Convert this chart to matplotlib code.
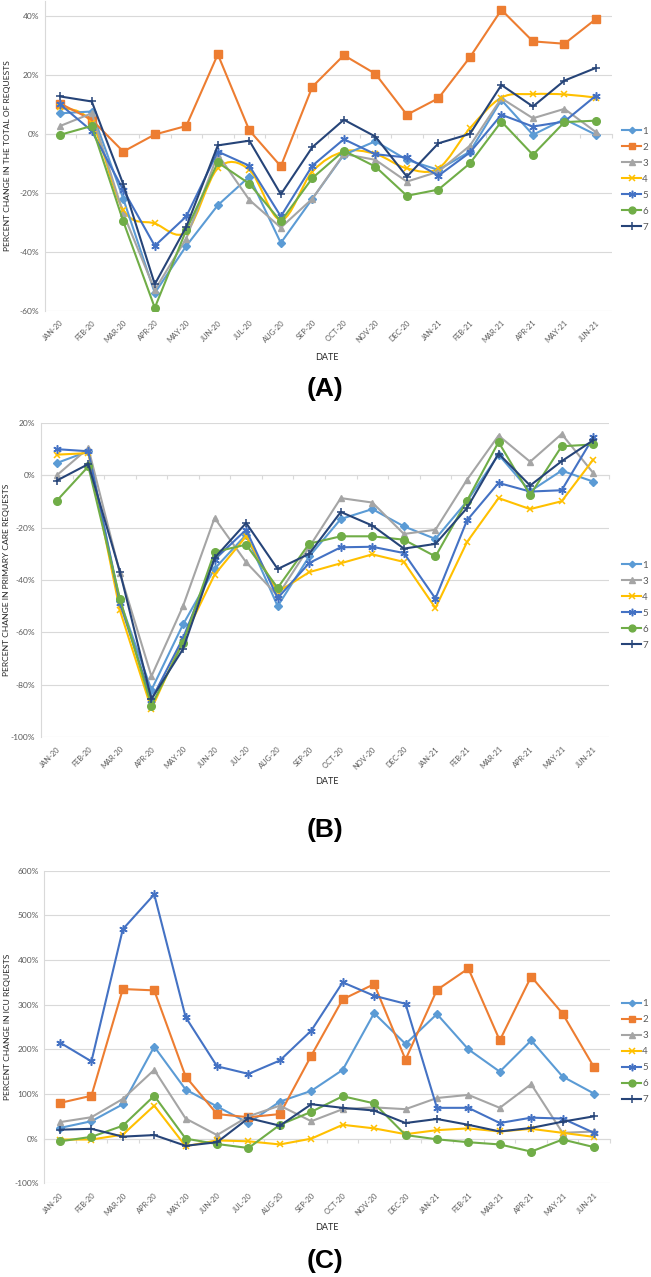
import matplotlib
matplotlib.use('Agg')
import matplotlib.pyplot as plt
from matplotlib.path import Path
from matplotlib.patches import PathPatch
from matplotlib.ticker import FuncFormatter
import numpy as np

plt.rcParams.update({
    'font.family': ['Lato', 'DejaVu Sans'],
    'axes.linewidth': 0.8,
})

MONTHS = ['JAN-20', 'FEB-20', 'MAR-20', 'APR-20', 'MAY-20', 'JUN-20', 'JUL-20',
          'AUG-20', 'SEP-20', 'OCT-20', 'NOV-20', 'DEC-20', 'JAN-21', 'FEB-21',
          'MAR-21', 'APR-21', 'MAY-21', 'JUN-21']

# (A) percent change in the total of requests
total_1 = [7.0, 7.6, -22, -54, -38, -24.2, -14.5, -37, -22, -7.1, -2.5, -8.8, -12.2, -6, 11.5, -0.3, 5, -0.3]
total_2 = [10.3, 4.8, -6, -0.2, 2.7, 27, 1.2, -11, 16, 26.7, 20.4, 6.5, 12.1, 26, 42.1, 31.4, 30.6, 39]
total_3 = [2.7, 7, -27, -53, -35.5, -7, -22.4, -31.8, -22, -6.8, -8.8, -16.2, -12.8, -4, 12.1, 5.3, 8.5, 0.6]
total_4 = [9, 3.6, -25.8, -30.4, -33.2, -11.7, -12.2, -29.2, -12.8, -6, -6.8, -11.7, -11.7, 1.9, 12.3, 13.5, 13.4, 12.3]
total_5 = [10, 1, -19, -38, -28, -6, -10.8, -28, -10.8, -1.8, -6.9, -8, -14.2, -6.3, 6.5, 2.5, 4.2, 13]
total_6 = [-0.3, 2.7, -29.7, -59, -32.6, -9.7, -16.9, -29.7, -15, -5.7, -11.1, -21, -18.9, -10, 4.2, -7.1, 4, 4.5]
total_7 = [12.7, 11, -17.1, -51, -31.5, -3.9, -2.3, -20.5, -4.5, 4.8, -0.9, -14.5, -3.2, 0, 16.6, 9.3, 18.1, 22.4]

# (B) percent change in primary care requests (no series 2)
primary_1 = [4.7, 9.2, -48, -82, -57, -35.7, -22.7, -50, -31, -16.7, -12.9, -19.5, -24.3, -9.9, 7.9, -6.1, 1.8, -2.4]
primary_3 = [0, 10.4, -37.3, -76.8, -50, -16.3, -33.2, -46, -27.4, -8.7, -10.4, -22.4, -20.8, -1.7, 15.2, 5.2, 15.8, 0.9]
primary_4 = [7.9, 8.5, -51.6, -89.3, -62.8, -38, -23.3, -44.6, -37, -33.6, -30.2, -33.1, -50.7, -25.5, -8.7, -12.9, -9.9, 6]
primary_5 = [10, 9.2, -48.8, -85.7, -62.2, -32.2, -20.8, -46.9, -33.5, -27.5, -27.3, -29.7, -47.1, -17.2, -2.9, -6.2, -5.7, 14.5]
primary_6 = [-9.7, 3.4, -47.1, -88, -64, -29.3, -26.5, -43, -26.1, -23.3, -23.3, -24.6, -31, -9.7, 12.7, -7.5, 11.1, 11.8]
primary_7 = [-2, 4.3, -36.8, -85.5, -66.4, -31.6, -18.2, -35.8, -30, -14, -19.2, -28, -26.2, -12.5, 8.3, -3.9, 5.4, 13.4]

# (C) percent change in ICU requests
icu_1 = [24, 39, 77, 206, 110, 72, 35, 83, 107, 154, 281, 212, 279, 200, 150, 220, 139, 101]
icu_2 = [80, 96, 335, 332, 139, 55, 48, 55, 186, 312, 346, 177, 333, 381, 220, 363, 280, 160]
icu_3 = [37, 48, 89, 154, 45, 8, 50, 74, 39, 66, 70, 66, 91, 98, 69, 122, 13, 16]
icu_4 = [-2, -2, 9, 74, -17, -4, -6, -13, 0, 31, 23, 10, 19, 23, 16, 22, 13, 4]
icu_5 = [215, 173, 469, 547, 272, 162, 145, 175, 242, 350, 320, 302, 69, 69, 35, 47, 45, 13]
icu_6 = [-6, 4, 29, 96, 0, -12, -21, 31, 60, 95, 79, 8, -1.5, -8, -13, -29, -2, -19]
icu_7 = [20, 22, 4.5, 8, -16, -8, 46, 29, 77, 69, 63, 35, 44, 31, 16, 24, 38, 50]

STYLE = {
    '1': dict(color='#5B9BD5', marker='D', ms=3.6, mew=1.0),
    '2': dict(color='#ED7D31', marker='s', ms=5.5, mew=1.0),
    '3': dict(color='#A5A5A5', marker='^', ms=5.0, mew=1.0),
    '4': dict(color='#FFC000', marker='x', ms=5.0, mew=1.1),
    '5': dict(color='#4472C4', marker=(6, 2, 0), ms=6.0, mew=1.1),
    '6': dict(color='#70AD47', marker='o', ms=5.5, mew=1.0),
    '7': dict(color='#264478', marker='+', ms=6.0, mew=1.1),
}
GRID = '#D9D9D9'
TICKC = '#595959'


def smooth_line(ax, x, y, color, lw):
    # Catmull-Rom style smoothing, like Excel's "smoothed line"
    pts = np.column_stack([x, y]).astype(float)
    ext = np.vstack([pts[0], pts, pts[-1]])
    verts = [tuple(pts[0])]
    codes = [Path.MOVETO]
    for i in range(1, len(ext) - 2):
        p0, p1, p2, p3 = ext[i - 1], ext[i], ext[i + 1], ext[i + 2]
        c1 = p1 + (p2 - p0) / 6.0
        c2 = p2 - (p3 - p1) / 6.0
        verts += [tuple(c1), tuple(c2), tuple(p2)]
        codes += [Path.CURVE4] * 3
    ax.add_patch(PathPatch(Path(verts, codes), facecolor='none', edgecolor=color,
                           lw=lw, capstyle='round', joinstyle='round'))


def draw_panel(ax, series, ylim, ystep, ylabel, letter, legend_y,
               smooth=(), ylabel_x=-0.05, date_y=0.0, letter_y=0.0):
    x = np.arange(len(MONTHS))
    lw = 1.5
    for name, vals in series:
        st = STYLE[name]
        if name in smooth:
            smooth_line(ax, x, vals, st['color'], lw)
            ax.plot(x, vals, ls='none', marker=st['marker'], ms=st['ms'],
                    mew=st['mew'], color=st['color'], label=name)
        else:
            ax.plot(x, vals, color=st['color'], lw=lw, marker=st['marker'],
                    ms=st['ms'], mew=st['mew'], label=name)

    ax.set_xlim(-0.5, len(MONTHS) - 0.5)
    ax.set_ylim(*ylim)
    yt = np.arange(ylim[0], ylim[1] + 0.1, ystep)
    ax.set_yticks(yt)
    ax.yaxis.set_major_formatter(FuncFormatter(lambda v, p: f'{v:.0f}%'))
    ax.grid(axis='y', color=GRID, lw=0.8)
    ax.set_axisbelow(True)
    for s in ['top', 'right', 'bottom']:
        ax.spines[s].set_visible(False)
    ax.spines['left'].set_color(GRID)
    ax.tick_params(axis='y', length=0, labelsize=6, labelcolor=TICKC, pad=4)
    ax.set_xticks(x)
    ax.set_xticklabels(MONTHS, rotation=45, ha='right', rotation_mode='anchor')
    ax.tick_params(axis='x', length=0, labelsize=5.4, labelcolor=TICKC, pad=6)

    # category tick marks along the 0% axis line
    frac = (0 - ylim[0]) / (ylim[1] - ylim[0])
    sec = ax.secondary_xaxis(frac)
    sec.set_alignment('bottom')
    sec.set_xticks(np.arange(-0.5, len(MONTHS), 1.0))
    sec.set_xticklabels([])
    sec.tick_params(axis='x', length=3, width=0.8, color=GRID, direction='out')
    sec.spines['bottom'].set_color(GRID)
    sec.spines['bottom'].set_linewidth(0.8)

    ax.set_ylabel(ylabel, fontsize=6.1, color='#262626')
    ax.yaxis.set_label_coords(ylabel_x, 0.5)

    fig = ax.figure
    fig.text(0.502, date_y, 'DATE', ha='center', va='center', fontsize=6.5, color='#262626')
    fig.text(0.5, letter_y, letter, ha='center', va='center', fontsize=19,
             fontweight='bold', family='Liberation Sans')

    handles, labels = ax.get_legend_handles_labels()
    handles = [plt.Line2D([], [], color=STYLE[l]['color'], lw=lw, marker=STYLE[l]['marker'],
                          ms=STYLE[l]['ms'] * 0.9, mew=STYLE[l]['mew']) for l in labels]
    ax.legend(handles, labels, loc='center left', bbox_to_anchor=(0.956, legend_y),
              bbox_transform=fig.transFigure, frameon=False, fontsize=7,
              labelcolor=TICKC, handlelength=1.9, handletextpad=0.15,
              labelspacing=0.72, borderaxespad=0, borderpad=0)


W, H = 651, 1277
fig = plt.figure(figsize=(W / 100, H / 100), dpi=100)


def add_axes(left, right, top, bottom):
    return fig.add_axes([left / W, 1 - bottom / H, (right - left) / W, (bottom - top) / H])


axA = add_axes(44.5, 611.7, 1.3, 310.7)
draw_panel(axA, [('1', total_1), ('2', total_2), ('3', total_3), ('4', total_4),
                 ('5', total_5), ('6', total_6), ('7', total_7)],
           (-60, 45), 20, 'PERCENT CHANGE IN THE TOTAL OF REQUESTS', '(A)',
           1 - 179.3 / H, smooth=('4',), ylabel_x=(11 - 44.5) / 567.2,
           date_y=1 - 358 / H, letter_y=1 - 389 / H)
axA.set_yticks(np.arange(-60, 41, 20))

axB = add_axes(41, 609, 423, 737)
draw_panel(axB, [('1', primary_1), ('3', primary_3), ('4', primary_4),
                 ('5', primary_5), ('6', primary_6), ('7', primary_7)],
           (-100, 20), 20, 'PERCENT CHANGE IN PRIMARY CARE REQUESTS', '(B)',
           1 - 605 / H, ylabel_x=(10 - 41) / 568.0,
           date_y=1 - 782 / H, letter_y=1 - 830 / H)

axC = add_axes(44.3, 609.7, 870.7, 1183.3)
draw_panel(axC, [('1', icu_1), ('2', icu_2), ('3', icu_3), ('4', icu_4),
                 ('5', icu_5), ('6', icu_6), ('7', icu_7)],
           (-100, 600), 100, 'PERCENT CHANGE IN ICU REQUESTS', '(C)',
           1 - 1051.5 / H, ylabel_x=(11 - 44.3) / 565.4,
           date_y=1 - 1228 / H, letter_y=1 - 1261 / H)

fig.savefig('out.png', dpi=100)
